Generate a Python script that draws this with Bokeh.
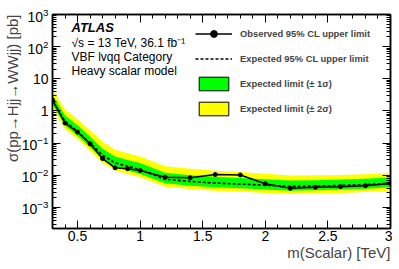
from bokeh.plotting import figure
from bokeh.models import (ColumnDataSource, LogAxis, LinearAxis, Label, Legend, Title,
                          LegendItem, FixedTicker, SingleIntervalTicker)
from bokeh.embed import file_html
from bokeh.resources import INLINE

mass = [0.3, 0.4, 0.5, 0.6, 0.7, 0.8, 0.9, 1.0, 1.2, 1.4, 1.6, 1.8, 2.0, 2.2, 2.4, 2.6, 2.8, 3.0]
observed = [2.2, 0.42, 0.22, 0.095, 0.033, 0.017, 0.016, 0.014, 0.0087, 0.0083, 0.0105, 0.0102,
            0.0054, 0.0039, 0.0042, 0.0044, 0.0047, 0.0055]
expected = [2.1, 0.47, 0.23, 0.10, 0.042, 0.024, 0.019, 0.015, 0.0075, 0.0064, 0.0057, 0.0053,
            0.0049, 0.0045, 0.0046, 0.0048, 0.0051, 0.0057]
exp_p2 = [4.8, 1.1, 0.55, 0.25, 0.11, 0.062, 0.048, 0.038, 0.019, 0.016, 0.0138, 0.0125,
          0.0112, 0.0098, 0.0099, 0.0102, 0.0107, 0.0118]
exp_p1 = [3.1, 0.72, 0.36, 0.16, 0.067, 0.038, 0.030, 0.024, 0.012, 0.0100, 0.0089, 0.0082,
          0.0075, 0.0068, 0.0070, 0.0073, 0.0077, 0.0086]
exp_m1 = [1.55, 0.35, 0.17, 0.074, 0.031, 0.018, 0.014, 0.011, 0.0056, 0.0047, 0.0042, 0.0039,
          0.0036, 0.0033, 0.0034, 0.0036, 0.0038, 0.0042]
exp_m2 = [1.2, 0.27, 0.135, 0.058, 0.024, 0.014, 0.011, 0.0087, 0.0044, 0.0037, 0.0033, 0.0031,
          0.0028, 0.0026, 0.0027, 0.0028, 0.0030, 0.0033]

x_tick_step = 0.5
y_major = [10.0 ** k for k in range(-3, 4)]
y_minor = [m * 10.0 ** k for k in range(-4, 3) for m in range(2, 10)]

FONT = "Liberation Sans"

src = ColumnDataSource(dict(m=mass, obs=observed, exp=expected,
                            p2=exp_p2, p1=exp_p1, m1=exp_m1, m2=exp_m2))

p = figure(width=392, height=268, x_range=(0.3, 3.0), y_range=(2.2e-4, 1000),
           y_axis_type="log", output_backend="svg", toolbar_location=None,
           min_border_left=52, min_border_right=2, min_border_top=14, min_border_bottom=40)
p.grid.visible = False
p.outline_line_color = "black"
p.outline_line_width = 1.5
p.background_fill_color = "white"
p.border_fill_color = "white"

yellow = p.varea(x="m", y1="m2", y2="p2", source=src, fill_color="#ffff00")
green = p.varea(x="m", y1="m1", y2="p1", source=src, fill_color="#00ff00")
exp_line = p.line(x="m", y="exp", source=src, line_color="black", line_width=1.6, line_dash="3 2")
obs_line = p.line(x="m", y="obs", source=src, line_color="black", line_width=1.5)
obs_pts = p.scatter(x="m", y="obs", source=src, size=4, color="black")

# legend-only (invisible) renderers: outlined band boxes
band_x = mass + mass[::-1]
g_key = p.patch(x=band_x, y=exp_p1 + exp_m1[::-1], fill_color="#00ff00",
                line_color="black", line_width=1, visible=False)
y_key = p.patch(x=band_x, y=exp_p2 + exp_m2[::-1], fill_color="#ffff00",
                line_color="black", line_width=1, visible=False)

legend = Legend(items=[
    LegendItem(label="Observed 95% CL upper limit", renderers=[obs_line, obs_pts]),
    LegendItem(label="Expected 95% CL upper limit", renderers=[exp_line]),
    LegendItem(label="Expected limit (\u00b1 1\u03c3)", renderers=[g_key]),
    LegendItem(label="Expected limit (\u00b1 2\u03c3)", renderers=[y_key]),
], location=(143, 111))
legend.glyph_width = 37
legend.glyph_height = 17
legend.label_height = 17
legend.spacing = 8
legend.label_standoff = 8
legend.padding = 0
legend.margin = 0
legend.border_line_color = None
legend.background_fill_alpha = 0
legend.inactive_fill_alpha = 0
legend.label_text_font = FONT
legend.label_text_font_size = "9.4px"
legend.label_text_font_style = "bold"
legend.label_text_baseline = "middle"
p.add_layout(legend, "center")

def style_axis(ax, major_len):
    ax.axis_line_color = "black"
    ax.axis_line_width = 1.5
    ax.major_tick_in = major_len
    ax.major_tick_out = 0
    ax.minor_tick_in = major_len // 2
    ax.minor_tick_out = 0
    ax.major_tick_line_color = "black"
    ax.minor_tick_line_color = "black"
    ax.major_label_text_font = FONT
    ax.major_label_text_font_size = "14px"
    ax.major_label_text_color = "black"

xt = SingleIntervalTicker(interval=x_tick_step, num_minor_ticks=5)
yt = FixedTicker(ticks=y_major, minor_ticks=y_minor)

xa = p.xaxis[0]
xa.ticker = xt
style_axis(xa, 8)
xa.major_label_standoff = 2

ya = p.yaxis[0]
ya.ticker = yt
style_axis(ya, 8)
ya.major_label_standoff = 4
ya.major_label_overrides = {1.0: "1", 10.0: "10"}

top_ax = LinearAxis(ticker=xt)
style_axis(top_ax, 8)
top_ax.major_label_text_font_size = "1px"
top_ax.major_label_text_color = None
top_ax.major_label_standoff = 0
p.add_layout(top_ax, "above")

right_ax = LogAxis(ticker=yt)
style_axis(right_ax, 8)
right_ax.major_label_text_font_size = "1px"
right_ax.major_label_text_color = None
right_ax.major_label_standoff = 0
p.add_layout(right_ax, "right")

# axis titles (ROOT style: aligned to the end of the axis)
p.add_layout(Title(text="\u03c3(pp\u2192Hjj\u2192WWjj) [pb]", align="right", text_font=FONT,
                   text_font_size="15px", text_font_style="normal", standoff=-4), "left")
p.add_layout(Title(text="m(Scalar) [TeV]", align="right", text_font=FONT,
                   text_font_size="15px", text_font_style="normal", standoff=-4,
                   text_line_height=0.8), "below")

texts = [
    ("ATLAS", 201, "bold italic", "13px"),
    ("\u221as = 13 TeV, 36.1 fb\u207b\u00b9", 186, "normal", "12px"),
    ("VBF lvqq Category", 172, "normal", "12px"),
    ("Heavy scalar model", 158, "normal", "12px"),
]
for t, yy, style, size in texts:
    p.add_layout(Label(x=19, y=yy, x_units="screen", y_units="screen", text=t,
                       text_font=FONT, text_font_size=size, text_font_style=style,
                       text_baseline="middle", text_color="black"))

open("out.html", "w").write(file_html(p, INLINE))
